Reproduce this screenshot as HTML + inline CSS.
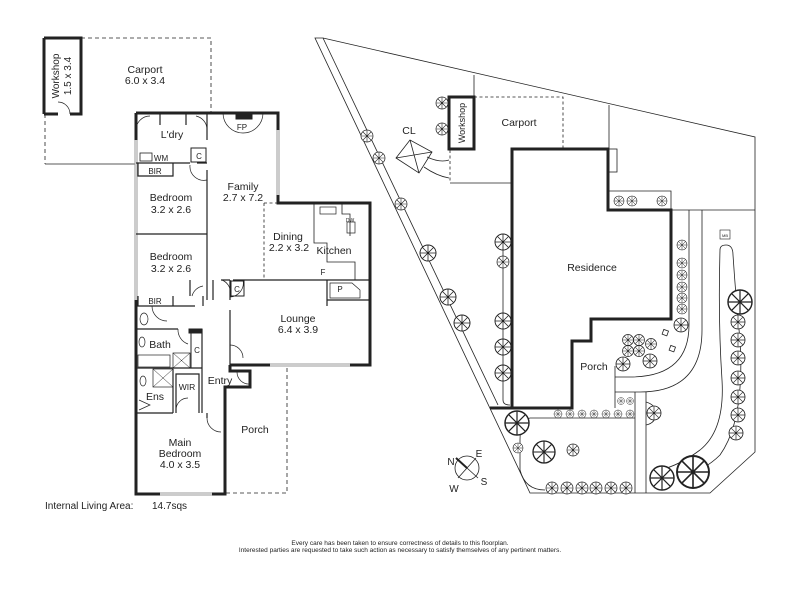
<!DOCTYPE html>
<html><head><meta charset="utf-8"><style>
html,body{margin:0;padding:0;background:#fff;}
svg{display:block;font-family:"Liberation Sans",Arial,sans-serif;}
text{fill:#222;}
</style></head><body>
<svg width="800" height="600" viewBox="0 0 800 600" xmlns="http://www.w3.org/2000/svg">
<defs>
<g id="t"><circle r="1" fill="#fff" stroke="#222" stroke-width="0.12"/><path d="M-0.95 0H0.95M0 -0.95V0.95M-0.67 -0.67L0.67 0.67M-0.67 0.67L0.67 -0.67" stroke="#222" stroke-width="0.1"/></g>
</defs>
<rect width="800" height="600" fill="#fff"/>

<!-- ===== FLOOR PLAN ===== -->
<g fill="none" stroke="#222">
 <path d="M81 38H211V112" stroke-dasharray="4,3" stroke-width="0.8"/>
 <path d="M45 114V164" stroke-dasharray="4,3" stroke-width="0.8"/>
 <path d="M45 164H136" stroke-width="0.8"/>
 <path d="M44 38H81V114H70 M58 114H44Z" stroke-width="3"/>
 <path d="M44 38V114" stroke-width="3"/>
 <path d="M70 114A12 12 0 0 0 58 102" stroke-width="0.7"/>
 <path d="M136 113H278V203H370V365H230 M230 365V371H250V387H225V494H136V113" stroke-width="3"/>
 <path d="M278 130V195" stroke="#999" stroke-width="3"/><path d="M278 130V195" stroke="#fff" stroke-width="1"/>
 <path d="M160 494H212" stroke="#999" stroke-width="3"/><path d="M160 494H212" stroke="#fff" stroke-width="1"/>
 <path d="M270 365H350" stroke="#999" stroke-width="3"/><path d="M270 365H350" stroke="#fff" stroke-width="1"/>
 <path d="M136 140V300" stroke="#999" stroke-width="3"/><path d="M136 140V300" stroke="#fff" stroke-width="1"/>
 <path d="M226 493H287V365" stroke-dasharray="4,3" stroke-width="0.8"/>
 <g stroke-width="1.2">
  <path d="M136 163H190 M197 163H207"/>
  <path d="M207 113V140 M207 170V300"/>
  <path d="M138 163V176H173V163"/>
  <path d="M136 234H207"/>
  <path d="M138 296V306H173V296 M136 306H195 M203 296V306"/>
  <path d="M136 329H178"/>
  <path d="M136 368H202"/>
  <path d="M202 329V413"/>
  <path d="M173 369V413 M176 413V374H199V413"/>
  <path d="M136 413H173"/>
  <path d="M213 280V300 M230 280V300 M230 310V365 M221 280H230"/>
  <path d="M233 280H264 M264 280H370"/>
  <path d="M327 280V300H370 M327 300V306"/>
  <path d="M190 280V296"/>
  <path d="M160 113V125 M186 113V125"/>
  <path d="M207 413V418"/>
 </g>
 <rect x="189" y="329" width="13" height="4" fill="#222"/>
 <rect x="191" y="333" width="11" height="35" stroke-width="1"/>
 <path d="M264 203H278 M264 203V280" stroke-dasharray="3,2.5" stroke-width="0.8"/>
 <path d="M314 203V243H327V262H355V280 M342 203V214H350V236" stroke-width="0.8"/>
 <rect x="320" y="207" width="16" height="7" stroke-width="0.7"/>
 <rect x="347" y="222" width="8" height="11" stroke-width="0.7"/>
 <path d="M330 283H352L360 290V298H330Z" stroke-width="0.7"/>
 <rect x="236" y="113" width="16" height="6" fill="#222"/>
 <path d="M223 113A20 20 0 0 0 263 113" stroke-width="0.7"/>
 <rect x="191" y="148" width="15" height="14" stroke-width="1"/>
 <rect x="231" y="281" width="13" height="15" stroke-width="1"/>
 <rect x="140" y="153" width="12" height="8" stroke-width="0.8"/>
 <g stroke-width="0.7">
  <path d="M136 130A14 14 0 0 1 150 116 M196 116A14 14 0 0 1 207 130"/>
  <path d="M190 165A14 14 0 0 0 207 180 M192 296A14 14 0 0 1 203 286 M230 297A14 14 0 0 0 222 280 M230 297A14 14 0 0 0 243 280"/>
  <path d="M152 306A15 15 0 0 0 167 321 M178 329A15 15 0 0 0 188 344"/>
  <path d="M230 345A13 13 0 0 1 243 358 M237 372A12 12 0 0 0 250 384"/>
  <path d="M207 418A14 14 0 0 0 221 432"/>
  <path d="M176 410A12 12 0 0 1 188 398"/>
 </g>
 <ellipse cx="144" cy="319" rx="4" ry="6" stroke-width="0.7"/>
 <ellipse cx="142" cy="342" rx="3" ry="5" stroke-width="0.7"/>
 <rect x="138" y="355" width="32" height="12" stroke-width="0.7"/>
 <rect x="173" y="353" width="17" height="15" stroke-width="0.7"/>
 <path d="M173 353L190 368M190 353L173 368" stroke-width="0.5"/>
 <rect x="153" y="369" width="20" height="18" stroke-width="0.7"/>
 <path d="M153 369L173 387M173 369L153 387" stroke-width="0.5"/>
 <ellipse cx="143" cy="381" rx="3" ry="5" stroke-width="0.7"/>
 <path d="M139 400L150 405L139 410" stroke-width="0.7"/>
</g>
<g font-size="10.5" text-anchor="middle">
 <text x="145" y="73">Carport</text><text x="145" y="84">6.0 x 3.4</text>
 <text transform="translate(59,76) rotate(-90)" font-size="10" x="0" y="0">Workshop</text>
 <text transform="translate(71,76) rotate(-90)" font-size="10" x="0" y="0">1.5 x 3.4</text>
 <text x="172" y="138">L'dry</text>
 <text x="242" y="130" font-size="8">FP</text>
 <text x="243" y="190">Family</text><text x="243" y="201">2.7 x 7.2</text>
 <text x="171" y="201">Bedroom</text><text x="171" y="213">3.2 x 2.6</text>
 <text x="171" y="260">Bedroom</text><text x="171" y="272">3.2 x 2.6</text>
 <text x="288" y="240">Dining</text><text x="289" y="251">2.2 x 3.2</text>
 <text x="334" y="254">Kitchen</text>
 <text x="298" y="322">Lounge</text><text x="298" y="333">6.4 x 3.9</text>
 <text x="220" y="384">Entry</text>
 <text x="255" y="433">Porch</text>
 <text x="180" y="446">Main</text><text x="180" y="457">Bedroom</text><text x="180" y="468">4.0 x 3.5</text>
 <text x="160" y="348">Bath</text>
 <text x="155" y="400">Ens</text>
 <text x="187" y="390" font-size="8.5">WIR</text>
 <text x="155" y="304" font-size="8">BIR</text>
 <text x="155" y="174" font-size="8">BIR</text>
 <text x="161" y="161" font-size="8">WM</text>
 <text x="199" y="159" font-size="8">C</text>
 <text x="237" y="292" font-size="8">C</text>
 <text x="197" y="353" font-size="8">C</text>
 <text x="323" y="275" font-size="8">F</text>
 <text x="340" y="292" font-size="8">P</text>
 <text x="350" y="222" font-size="5">DW</text>
</g>
<text x="45" y="509" font-size="10">Internal Living  Area:</text>
<text x="152" y="509" font-size="10">14.7sqs</text>

<!-- ===== SITE PLAN ===== -->
<g fill="none" stroke="#222" stroke-width="0.8">
 <path d="M315 38L323 38L755 137V452L710 493H530Z"/>
 <path d="M323 38L498 405"/>
 <path d="M474 75V97 M609 105V149"/>
 <path d="M474 97H563V149" stroke-dasharray="3,2.5"/>
 <path d="M450 150V183" stroke-dasharray="3,2.5"/>
 <path d="M450 183H512"/>
 <rect x="609" y="149" width="8" height="23"/>
 <path d="M609 191H671V210H755"/>
 <path d="M396 158L410 140L432 152L419 173Z M396 158L432 152 M410 140L419 173"/>
 <path d="M427 157Q440 163 449 160 M424 167Q437 176 449 178"/>
 <path d="M689 210V325Q689 377 630 377H615 M702 210V330Q702 392 640 392H615"/>
 <path d="M615 366V408 M635 392V493 M646 392V493"/>
 <path d="M646 402Q656 405 656 413Q656 423 646 425"/>
 <path d="M530 418H635 M530 418Q520 420 520 440V470Q525 490 545 490"/>
 <path d="M503 235V400Q503 405 510 405"/>
 <path d="M720 250Q720 245 726 245Q733 245 733 255Q736 300 740 340Q745 420 720 455Q705 470 680 478 M720 250Q718 320 722 380Q725 430 700 450Q680 465 660 470"/>
 <rect x="720" y="230" width="10" height="9" stroke-width="0.6"/>
 <rect x="663" y="330" width="5" height="5" transform="rotate(20 665 332)"/>
 <rect x="670" y="346" width="5" height="5" transform="rotate(20 672 348)"/>
</g>
<path d="M512 149H608V210H671V319H591V341H572V408H512Z M512 408H490" fill="none" stroke="#222" stroke-width="3"/>
<rect x="449" y="97" width="25" height="52" fill="none" stroke="#222" stroke-width="3"/>
<g font-size="10.5" text-anchor="middle">
 <text x="519" y="126">Carport</text>
 <text transform="translate(465,123) rotate(-90)" font-size="9">Workshop</text>
 <text x="409" y="134">CL</text>
 <text x="592" y="271">Residence</text>
 <text x="594" y="370">Porch</text>
 <text x="725" y="237" font-size="4">MB</text>
</g>
<g>
 <use href="#t" transform="translate(367,136) scale(6)"/><use href="#t" transform="translate(379,158) scale(6)"/>
 <use href="#t" transform="translate(401,204) scale(6)"/><use href="#t" transform="translate(428,253) scale(8)"/>
 <use href="#t" transform="translate(448,297) scale(8)"/><use href="#t" transform="translate(462,323) scale(8)"/>
 <use href="#t" transform="translate(442,103) scale(6)"/><use href="#t" transform="translate(442,129) scale(6)"/>
 <use href="#t" transform="translate(503,242) scale(8)"/><use href="#t" transform="translate(503,262) scale(6)"/>
 <use href="#t" transform="translate(503,321) scale(8)"/><use href="#t" transform="translate(503,347) scale(8)"/>
 <use href="#t" transform="translate(503,373) scale(8)"/>
 <use href="#t" transform="translate(619,201) scale(5)"/><use href="#t" transform="translate(632,201) scale(5)"/><use href="#t" transform="translate(662,201) scale(5)"/>
 <use href="#t" transform="translate(682,245) scale(5)"/><use href="#t" transform="translate(682,263) scale(5)"/>
 <use href="#t" transform="translate(682,275) scale(5)"/><use href="#t" transform="translate(682,287) scale(5)"/>
 <use href="#t" transform="translate(682,298) scale(5)"/><use href="#t" transform="translate(682,309) scale(5)"/>
 <use href="#t" transform="translate(681,325) scale(7)"/>
 <use href="#t" transform="translate(628,340) scale(5.5)"/><use href="#t" transform="translate(639,340) scale(5.5)"/>
 <use href="#t" transform="translate(628,351) scale(5.5)"/><use href="#t" transform="translate(639,351) scale(5.5)"/>
 <use href="#t" transform="translate(651,344) scale(5.5)"/><use href="#t" transform="translate(623,364) scale(7)"/>
 <use href="#t" transform="translate(650,361) scale(7)"/>
 <use href="#t" transform="translate(621,401) scale(3.5)"/><use href="#t" transform="translate(630,401) scale(3.5)"/>
 <use href="#t" transform="translate(558,414) scale(4)"/><use href="#t" transform="translate(570,414) scale(4)"/>
 <use href="#t" transform="translate(582,414) scale(4)"/><use href="#t" transform="translate(594,414) scale(4)"/>
 <use href="#t" transform="translate(606,414) scale(4)"/><use href="#t" transform="translate(618,414) scale(4)"/>
 <use href="#t" transform="translate(630,414) scale(4)"/>
 <use href="#t" transform="translate(517,423) scale(12)"/><use href="#t" transform="translate(518,448) scale(5)"/>
 <use href="#t" transform="translate(544,452) scale(11)"/><use href="#t" transform="translate(573,450) scale(6)"/>
 <use href="#t" transform="translate(552,488) scale(6)"/><use href="#t" transform="translate(567,488) scale(6)"/>
 <use href="#t" transform="translate(582,488) scale(6)"/><use href="#t" transform="translate(596,488) scale(6)"/>
 <use href="#t" transform="translate(611,488) scale(6)"/><use href="#t" transform="translate(626,488) scale(6)"/>
 <use href="#t" transform="translate(654,413) scale(7)"/><use href="#t" transform="translate(662,478) scale(12)"/>
 <use href="#t" transform="translate(693,472) scale(16)"/>
 <use href="#t" transform="translate(740,302) scale(12)"/><use href="#t" transform="translate(738,322) scale(7)"/>
 <use href="#t" transform="translate(738,340) scale(7)"/><use href="#t" transform="translate(738,358) scale(7)"/>
 <use href="#t" transform="translate(738,378) scale(7)"/><use href="#t" transform="translate(738,397) scale(7)"/>
 <use href="#t" transform="translate(738,415) scale(7)"/><use href="#t" transform="translate(736,433) scale(7)"/>
</g>
<circle cx="467" cy="468" r="12" fill="none" stroke="#222" stroke-width="0.8"/>
<path d="M456 458L478 478 M476 458L458 478" stroke="#222" stroke-width="0.8"/>
<path d="M456 458L467 468" stroke="#222" stroke-width="2"/>
<g font-size="10" text-anchor="middle"><text x="451" y="465">N</text><text x="479" y="457">E</text><text x="454" y="492">W</text><text x="484" y="485">S</text></g>

<g font-size="6.5" text-anchor="middle">
 <text x="400" y="545">Every care has been taken to ensure correctness of details to this floorplan.</text>
 <text x="400" y="552">Interested parties are requested to take such action as necessary to satisfy themselves of any pertinent matters.</text>
</g>
</svg>
</body></html>
